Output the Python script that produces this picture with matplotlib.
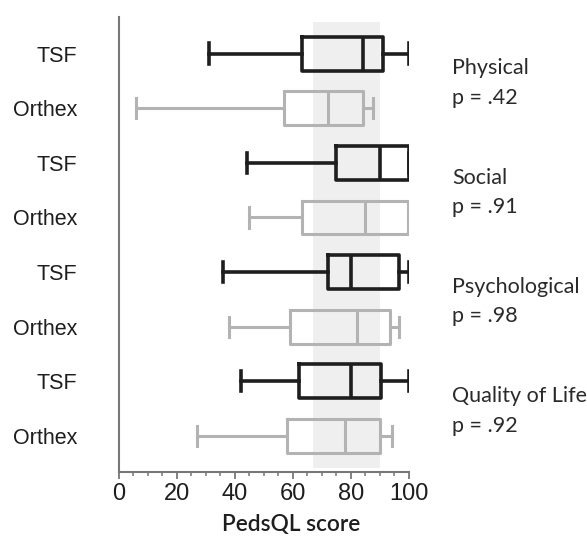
import matplotlib
matplotlib.use("Agg")
import matplotlib.pyplot as plt
from matplotlib import ticker

# group labels, top to bottom
groups = ["TSF", "Orthex", "TSF", "Orthex", "TSF", "Orthex", "TSF", "Orthex"]
domains = ["Physical", "Social", "Psychological", "Quality of Life"]
p_values = [".42", ".91", ".98", ".92"]

# box plot summaries (PedsQL score)
whisker_low = [31, 6, 44, 45, 36, 38, 42, 27]
quartile_1 = [63, 57, 75, 63, 72, 59, 62, 58]
medians = [84, 72, 90, 85, 80, 82, 80, 78]
quartile_3 = [91, 84, 100, 99.5, 96.5, 93.5, 90.5, 90]
whisker_high = [100, 87.5, 100, 100, 100, 96.5, 100, 94]

# shaded reference band
band = [67, 90]

colors = {"TSF": "#1e1e1e", "Orthex": "#b3b3b3"}
widths = {"TSF": 2.6, "Orthex": 2.2}


def draw_boxes(ax):
    for i, name in enumerate(groups):
        stats = [{
            "whislo": whisker_low[i],
            "q1": quartile_1[i],
            "med": medians[i],
            "q3": quartile_3[i],
            "whishi": whisker_high[i],
        }]
        style = {"color": colors[name], "linewidth": widths[name]}
        ax.bxp(
            stats,
            positions=[i + 1],
            widths=0.62,
            capwidths=0.37,
            orientation="horizontal",
            showfliers=False,
            boxprops=style,
            whiskerprops=style,
            capprops=style,
            medianprops=style,
            manage_ticks=False,
        )


fig = plt.figure(figsize=(5.87, 5.36), dpi=100)
ax = fig.add_axes([0.2027, 0.1194, 0.4940, 0.8489])

ax.axvspan(band[0], band[1], ymin=0.009, ymax=0.989, color="#efefef", zorder=0, lw=0)
draw_boxes(ax)

ax.set_xlim(0, 100)
ax.set_ylim(8.66, 0.33)
ax.set_yticks(range(1, len(groups) + 1))
ax.set_yticklabels(groups, family="Liberation Sans", fontsize=15.5, color="#1e1e1e")
ax.tick_params(axis="y", length=0, pad=30)

ax.xaxis.set_major_locator(ticker.MultipleLocator(20))
ax.xaxis.set_minor_locator(ticker.MultipleLocator(5))
ax.tick_params(axis="x", which="major", length=5, width=1.3, color="#777777",
               labelsize=17, pad=3)
ax.tick_params(axis="x", which="minor", length=3, width=1.1, color="#777777")
for lab in ax.get_xticklabels():
    lab.set_family("Liberation Sans")
    lab.set_color("#1e1e1e")

for side in ["top", "right"]:
    ax.spines[side].set_visible(False)
for side in ["left", "bottom"]:
    ax.spines[side].set_color("#777777")
    ax.spines[side].set_linewidth(1.5)

# domain name and p value beside each TSF/Orthex pair
for k, (domain, p) in enumerate(zip(domains, p_values)):
    center = 2 * k + 1.54
    ax.text(114.8, center, f"{domain}\np = {p}", ha="left", va="center",
            fontsize=15.5, family="Lato", color="#2a2a2a", linespacing=1.6,
            clip_on=False)

fig.text(291 / 587, 1 - 525 / 536, "PedsQL score", ha="center", va="center",
         fontsize=16.3, family="Lato", fontweight="semibold", color="#1e1e1e")

fig.savefig("out.png", dpi=100)
